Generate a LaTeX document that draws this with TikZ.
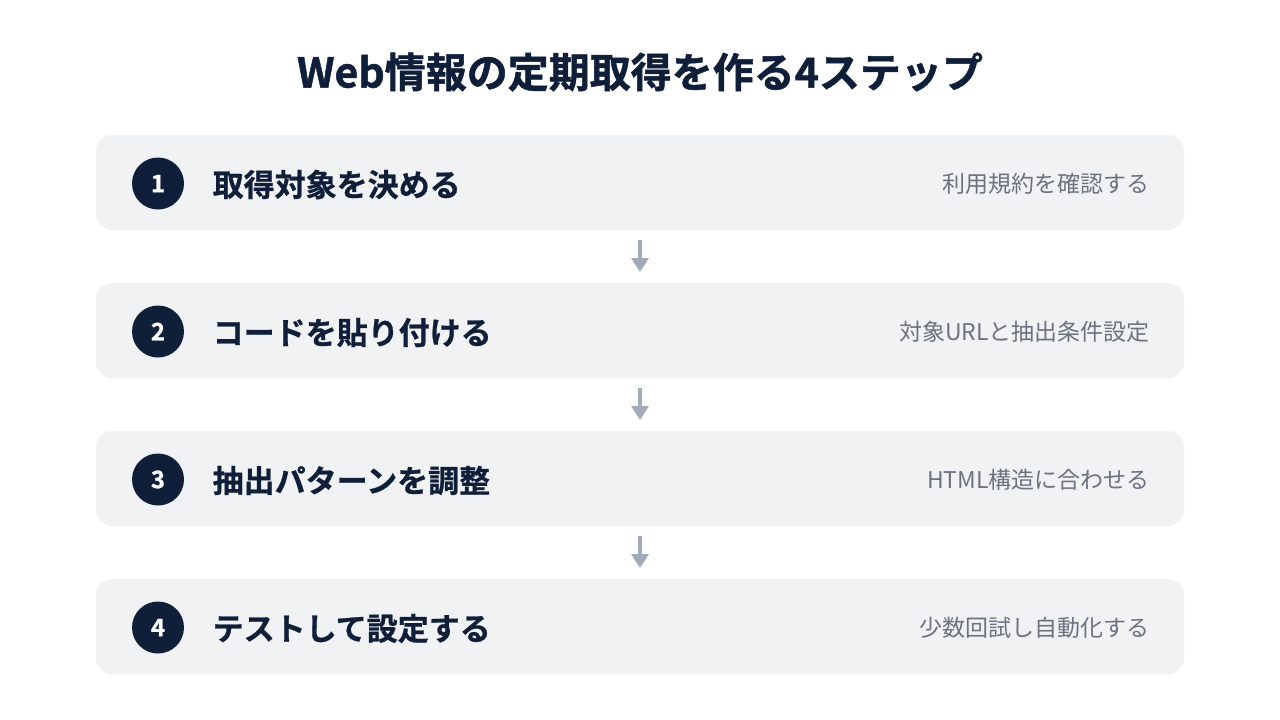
\documentclass[tikz,border=0pt]{standalone}
\usepackage{fontspec}
\usetikzlibrary{arrows.meta}
\setmainfont{Noto Sans CJK JP}
\newfontfamily\jpheavy{Noto Sans CJK JP Bold}[FakeBold=1.2]
\newfontfamily\jpstep{Noto Sans CJK JP Bold}[FakeBold=0.8]
\definecolor{navy}{HTML}{0F1F3A}
\definecolor{boxbg}{HTML}{F1F2F4}
\definecolor{subgray}{HTML}{6B7280}
\definecolor{arrowgray}{HTML}{A3ABBA}
\begin{document}
\begin{tikzpicture}[x=1pt,y=-1pt,
  stepbox/.style={fill=boxbg, rounded corners=16pt, draw=none},
  numcirc/.style={circle, fill=navy, minimum size=52pt, inner sep=0pt, text=white, font=\jpstep\fontsize{24}{28}\selectfont},
  steptext/.style={anchor=west, inner sep=0pt, text=navy, font=\jpstep\fontsize{31}{36}\selectfont},
  subtext/.style={anchor=east, inner sep=0pt, text=subgray, font=\fontsize{23}{28}\selectfont},
  flowarrow/.style={draw=arrowgray, line width=4.5pt, -{Triangle[width=17pt,length=14pt]}, fill=arrowgray}
]
\useasboundingbox (0,0) rectangle (1280,720);
\fill[white] (0,0) rectangle (1280,720);
\node[text=navy, font=\jpheavy\fontsize{41}{48}\selectfont, inner sep=0pt] (title) at (640,72) {Web情報の定期取得を作る4ステップ};
\foreach \i/\y/\main/\sub in {1/135/取得対象を決める/利用規約を確認する, 2/283/コードを貼り付ける/対象URLと抽出条件設定, 3/431/抽出パターンを調整/HTML構造に合わせる, 4/579/テストして設定する/少数回試し自動化する}{
  \fill[stepbox] (96,\y) rectangle (1184,\y+95);
  \node[numcirc] (c\i) at (158,\y+48.5) {\i};
  \node[steptext] (t\i) at (212.5,\y+49.5) {\main};
  \node[subtext] (s\i) at (1150,\y+49) {\sub};
}
\foreach \y [count=\j] in {230,378,526}{
  \coordinate (a\j) at (640,\y+10);
  \coordinate (b\j) at (640,\y+42);
  \draw[flowarrow] (a\j) -- (b\j);
}
\end{tikzpicture}
\end{document}
